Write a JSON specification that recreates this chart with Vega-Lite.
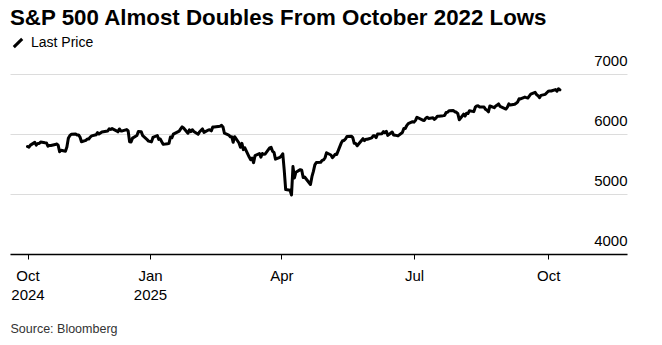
{
  "$schema": "https://vega.github.io/schema/vega-lite/v6.json",
  "width": 617,
  "height": 180,
  "autosize": "none",
  "padding": {"left": 10, "top": 74, "right": 35, "bottom": 91},
  "background": "#ffffff",
  "config": {
    "view": {"stroke": null},
    "font": "Liberation Sans"
  },
  "title": {
    "text": "S&P 500 Almost Doubles From October 2022 Lows",
    "anchor": "start",
    "frame": "group",
    "fontSize": 22.3,
    "fontWeight": "bold",
    "color": "#000000",
    "offset": 7
  },
  "data": {
    "values": [
      {"d":"2024-10-09","v":5792},{"d":"2024-10-10","v":5780},{"d":"2024-10-11","v":5815},{"d":"2024-10-14","v":5860},{"d":"2024-10-15","v":5815},{"d":"2024-10-16","v":5842},{"d":"2024-10-17","v":5841},{"d":"2024-10-18","v":5865},{"d":"2024-10-21","v":5854},{"d":"2024-10-22","v":5851},{"d":"2024-10-23","v":5797},{"d":"2024-10-24","v":5810},{"d":"2024-10-25","v":5808},{"d":"2024-10-28","v":5824},{"d":"2024-10-29","v":5833},{"d":"2024-10-30","v":5814},{"d":"2024-10-31","v":5705},
      {"d":"2024-11-01","v":5729},{"d":"2024-11-04","v":5713},{"d":"2024-11-05","v":5783},{"d":"2024-11-06","v":5929},{"d":"2024-11-07","v":5973},{"d":"2024-11-08","v":5996},{"d":"2024-11-11","v":6001},{"d":"2024-11-12","v":5984},{"d":"2024-11-13","v":5985},{"d":"2024-11-14","v":5949},{"d":"2024-11-15","v":5871},{"d":"2024-11-18","v":5894},{"d":"2024-11-19","v":5917},{"d":"2024-11-20","v":5917},{"d":"2024-11-21","v":5949},{"d":"2024-11-22","v":5969},{"d":"2024-11-25","v":5987},{"d":"2024-11-26","v":6022},{"d":"2024-11-27","v":5999},{"d":"2024-11-29","v":6032},
      {"d":"2024-12-02","v":6047},{"d":"2024-12-03","v":6050},{"d":"2024-12-04","v":6086},{"d":"2024-12-05","v":6075},{"d":"2024-12-06","v":6090},{"d":"2024-12-09","v":6053},{"d":"2024-12-10","v":6035},{"d":"2024-12-11","v":6084},{"d":"2024-12-12","v":6051},{"d":"2024-12-13","v":6051},{"d":"2024-12-16","v":6074},{"d":"2024-12-17","v":6051},{"d":"2024-12-18","v":5872},{"d":"2024-12-19","v":5867},{"d":"2024-12-20","v":5931},{"d":"2024-12-23","v":5974},{"d":"2024-12-24","v":6040},{"d":"2024-12-26","v":6038},{"d":"2024-12-27","v":5971},{"d":"2024-12-30","v":5907},{"d":"2024-12-31","v":5882},
      {"d":"2025-01-02","v":5869},{"d":"2025-01-03","v":5942},{"d":"2025-01-06","v":5975},{"d":"2025-01-07","v":5909},{"d":"2025-01-08","v":5918},{"d":"2025-01-10","v":5827},{"d":"2025-01-13","v":5836},{"d":"2025-01-14","v":5843},{"d":"2025-01-15","v":5950},{"d":"2025-01-16","v":5937},{"d":"2025-01-17","v":5997},{"d":"2025-01-21","v":6049},{"d":"2025-01-22","v":6086},{"d":"2025-01-23","v":6119},{"d":"2025-01-24","v":6101},{"d":"2025-01-27","v":6012},{"d":"2025-01-28","v":6068},{"d":"2025-01-29","v":6039},{"d":"2025-01-30","v":6071},{"d":"2025-01-31","v":6041},
      {"d":"2025-02-03","v":5995},{"d":"2025-02-04","v":6038},{"d":"2025-02-05","v":6061},{"d":"2025-02-06","v":6084},{"d":"2025-02-07","v":6026},{"d":"2025-02-10","v":6066},{"d":"2025-02-11","v":6069},{"d":"2025-02-12","v":6052},{"d":"2025-02-13","v":6115},{"d":"2025-02-14","v":6115},{"d":"2025-02-18","v":6130},{"d":"2025-02-19","v":6144},{"d":"2025-02-20","v":6118},{"d":"2025-02-21","v":6013},{"d":"2025-02-24","v":5983},{"d":"2025-02-25","v":5955},{"d":"2025-02-26","v":5956},{"d":"2025-02-27","v":5862},{"d":"2025-02-28","v":5955},
      {"d":"2025-03-03","v":5850},{"d":"2025-03-04","v":5778},{"d":"2025-03-05","v":5843},{"d":"2025-03-06","v":5739},{"d":"2025-03-07","v":5770},{"d":"2025-03-10","v":5615},{"d":"2025-03-11","v":5572},{"d":"2025-03-12","v":5599},{"d":"2025-03-13","v":5522},{"d":"2025-03-14","v":5639},{"d":"2025-03-17","v":5675},{"d":"2025-03-18","v":5615},{"d":"2025-03-19","v":5675},{"d":"2025-03-20","v":5663},{"d":"2025-03-21","v":5668},{"d":"2025-03-24","v":5768},{"d":"2025-03-25","v":5777},{"d":"2025-03-26","v":5712},{"d":"2025-03-27","v":5693},{"d":"2025-03-28","v":5581},{"d":"2025-03-31","v":5612},
      {"d":"2025-04-01","v":5633},{"d":"2025-04-02","v":5671},{"d":"2025-04-03","v":5397},{"d":"2025-04-04","v":5074},{"d":"2025-04-07","v":5062},{"d":"2025-04-08","v":4983},{"d":"2025-04-09","v":5457},{"d":"2025-04-10","v":5268},{"d":"2025-04-11","v":5363},{"d":"2025-04-14","v":5406},{"d":"2025-04-15","v":5397},{"d":"2025-04-16","v":5276},{"d":"2025-04-17","v":5283},{"d":"2025-04-21","v":5158},{"d":"2025-04-22","v":5288},{"d":"2025-04-23","v":5376},{"d":"2025-04-24","v":5485},{"d":"2025-04-25","v":5525},{"d":"2025-04-28","v":5529},{"d":"2025-04-29","v":5561},{"d":"2025-04-30","v":5569},
      {"d":"2025-05-01","v":5604},{"d":"2025-05-02","v":5687},{"d":"2025-05-05","v":5650},{"d":"2025-05-06","v":5607},{"d":"2025-05-07","v":5631},{"d":"2025-05-08","v":5664},{"d":"2025-05-09","v":5660},{"d":"2025-05-12","v":5844},{"d":"2025-05-13","v":5887},{"d":"2025-05-14","v":5893},{"d":"2025-05-15","v":5917},{"d":"2025-05-16","v":5958},{"d":"2025-05-19","v":5964},{"d":"2025-05-20","v":5940},{"d":"2025-05-21","v":5845},{"d":"2025-05-22","v":5842},{"d":"2025-05-23","v":5803},{"d":"2025-05-27","v":5922},{"d":"2025-05-28","v":5889},{"d":"2025-05-29","v":5912},{"d":"2025-05-30","v":5912},
      {"d":"2025-06-02","v":5936},{"d":"2025-06-03","v":5970},{"d":"2025-06-04","v":5971},{"d":"2025-06-05","v":5939},{"d":"2025-06-06","v":6000},{"d":"2025-06-09","v":6006},{"d":"2025-06-10","v":6039},{"d":"2025-06-11","v":6022},{"d":"2025-06-12","v":6045},{"d":"2025-06-13","v":5977},{"d":"2025-06-16","v":6033},{"d":"2025-06-17","v":5983},{"d":"2025-06-18","v":5981},{"d":"2025-06-20","v":5968},{"d":"2025-06-23","v":6025},{"d":"2025-06-24","v":6092},{"d":"2025-06-25","v":6092},{"d":"2025-06-26","v":6141},{"d":"2025-06-27","v":6173},{"d":"2025-06-30","v":6205},
      {"d":"2025-07-01","v":6198},{"d":"2025-07-02","v":6227},{"d":"2025-07-03","v":6279},{"d":"2025-07-07","v":6230},{"d":"2025-07-08","v":6226},{"d":"2025-07-09","v":6263},{"d":"2025-07-10","v":6280},{"d":"2025-07-11","v":6260},{"d":"2025-07-14","v":6269},{"d":"2025-07-15","v":6244},{"d":"2025-07-16","v":6264},{"d":"2025-07-17","v":6297},{"d":"2025-07-18","v":6297},{"d":"2025-07-21","v":6306},{"d":"2025-07-22","v":6310},{"d":"2025-07-23","v":6359},{"d":"2025-07-24","v":6363},{"d":"2025-07-25","v":6389},{"d":"2025-07-28","v":6390},{"d":"2025-07-29","v":6371},{"d":"2025-07-30","v":6363},{"d":"2025-07-31","v":6339},
      {"d":"2025-08-01","v":6238},{"d":"2025-08-04","v":6330},{"d":"2025-08-05","v":6299},{"d":"2025-08-06","v":6345},{"d":"2025-08-07","v":6340},{"d":"2025-08-08","v":6389},{"d":"2025-08-11","v":6373},{"d":"2025-08-12","v":6446},{"d":"2025-08-13","v":6467},{"d":"2025-08-14","v":6469},{"d":"2025-08-15","v":6450},{"d":"2025-08-18","v":6449},{"d":"2025-08-19","v":6411},{"d":"2025-08-20","v":6396},{"d":"2025-08-21","v":6370},{"d":"2025-08-22","v":6467},{"d":"2025-08-25","v":6439},{"d":"2025-08-26","v":6466},{"d":"2025-08-27","v":6481},{"d":"2025-08-28","v":6502},{"d":"2025-08-29","v":6460},
      {"d":"2025-09-02","v":6416},{"d":"2025-09-03","v":6448},{"d":"2025-09-04","v":6502},{"d":"2025-09-05","v":6482},{"d":"2025-09-08","v":6495},{"d":"2025-09-09","v":6513},{"d":"2025-09-10","v":6532},{"d":"2025-09-11","v":6587},{"d":"2025-09-12","v":6584},{"d":"2025-09-15","v":6615},{"d":"2025-09-16","v":6607},{"d":"2025-09-17","v":6600},{"d":"2025-09-18","v":6632},{"d":"2025-09-19","v":6664},{"d":"2025-09-22","v":6694},{"d":"2025-09-23","v":6657},{"d":"2025-09-24","v":6638},{"d":"2025-09-25","v":6605},{"d":"2025-09-26","v":6644},{"d":"2025-09-29","v":6661},{"d":"2025-09-30","v":6688},
      {"d":"2025-10-01","v":6711},{"d":"2025-10-02","v":6715},{"d":"2025-10-03","v":6716},{"d":"2025-10-06","v":6740},{"d":"2025-10-07","v":6715},{"d":"2025-10-08","v":6754},{"d":"2025-10-09","v":6735}
    ]
  },
  "mark": {"type": "line", "strokeWidth": 3, "strokeJoin": "round", "strokeCap": "round"},
  "encoding": {
    "x": {
      "field": "d",
      "type": "temporal",
      "scale": {
        "type": "utc",
        "domain": [
          {"year": 2024, "month": 9, "date": 27, "utc": true},
          {"year": 2025, "month": 11, "date": 24, "utc": true}
        ]
      },
      "axis": {
        "values": [
          {"year": 2024, "month": 10, "date": 9, "utc": true},
          {"year": 2025, "month": 1, "date": 1, "utc": true},
          {"year": 2025, "month": 4, "date": 1, "utc": true},
          {"year": 2025, "month": 7, "date": 1, "utc": true},
          {"year": 2025, "month": 10, "date": 1, "utc": true}
        ],
        "labelExpr": "(datum.index == 0 || utcmonth(datum.value) == 0) ? [utcFormat(datum.value, '%b'), utcFormat(datum.value, '%Y')] : utcFormat(datum.value, '%b')",
        "labelFontSize": 15,
        "labelColor": "#000000",
        "labelPadding": 9,
        "labelLineHeight": 19,
        "labelAlign": "center",
        "labelOverlap": false,
        "labelFlush": false,
        "grid": false,
        "domain": true,
        "domainColor": "#000000",
        "domainWidth": 1.5,
        "ticks": true,
        "tickColor": "#000000",
        "tickSize": 5,
        "tickWidth": 1,
        "title": "Source: Bloomberg",
        "titleFontSize": 12.5,
        "titleFontWeight": "normal",
        "titleColor": "#333333",
        "titleAnchor": "start",
        "titleAlign": "left",
        "titleBaseline": "middle",
        "titleX": 0,
        "titleY": 74
      }
    },
    "y": {
      "field": "v",
      "type": "quantitative",
      "scale": {"domain": [4000, 7000], "zero": false, "nice": false},
      "axis": {
        "orient": "right",
        "values": [4000, 5000, 6000, 7000],
        "format": "d",
        "grid": true,
        "gridColor": "#dcdcdc",
        "gridWidth": 1,
        "domain": false,
        "ticks": false,
        "labelAlign": "right",
        "labelBaseline": "alphabetic",
        "labelOffset": -9,
        "labelPadding": 0,
        "labelFontSize": 15,
        "labelColor": "#000000",
        "title": null
      }
    },
    "color": {
      "datum": "Last Price",
      "scale": {"range": ["#000000"]},
      "legend": {
        "orient": "none",
        "legendX": 1,
        "legendY": -38,
        "title": null,
        "symbolType": "M-1,1L1,-1",
        "symbolSize": 70,
        "symbolStrokeWidth": 3,
        "labelFontSize": 14,
        "labelColor": "#000000",
        "labelOffset": 6
      }
    }
  }
}
